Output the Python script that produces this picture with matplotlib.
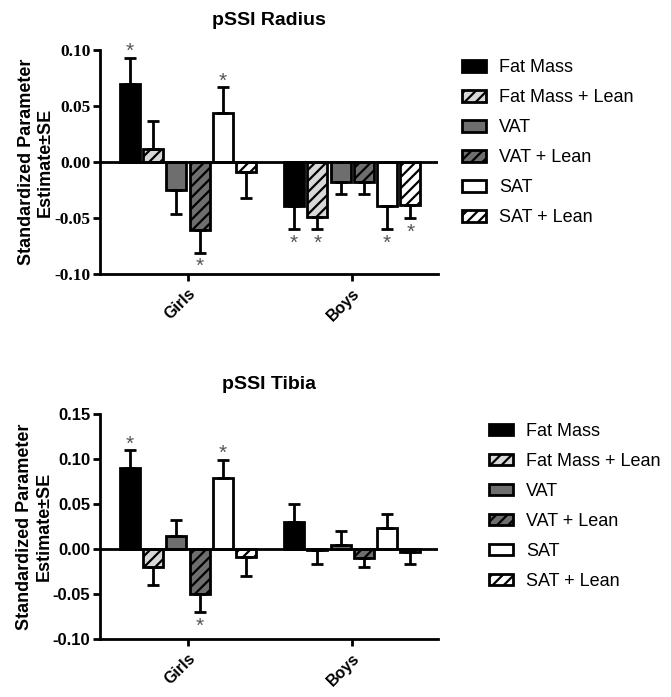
import numpy as np
import matplotlib
matplotlib.use("Agg")
import matplotlib.pyplot as plt

plt.rcParams['font.family'] = ['Liberation Sans', 'DejaVu Sans']
plt.rcParams['hatch.linewidth'] = 1.6

groups = ["Girls", "Boys"]
series = ["Fat Mass", "Fat Mass + Lean", "VAT", "VAT + Lean", "SAT", "SAT + Lean"]
colors = ["#000000", "#d8d8d8", "#6e6e6e", "#6e6e6e", "#ffffff", "#ffffff"]
hatches = [None, "///", None, "///", None, "///"]

# pSSI Radius
radius_girls = [0.070, 0.012, -0.025, -0.061, 0.044, -0.009]
radius_girls_se = [0.023, 0.025, 0.021, 0.020, 0.023, 0.023]
radius_girls_sig = [True, False, False, True, True, False]
radius_boys = [-0.039, -0.049, -0.018, -0.018, -0.039, -0.038]
radius_boys_se = [0.021, 0.011, 0.011, 0.011, 0.021, 0.012]
radius_boys_sig = [True, True, False, False, True, True]

# pSSI Tibia
tibia_girls = [0.090, -0.020, 0.014, -0.050, 0.079, -0.009]
tibia_girls_se = [0.020, 0.020, 0.018, 0.020, 0.020, 0.021]
tibia_girls_sig = [True, False, False, True, True, False]
tibia_boys = [0.030, -0.001, 0.005, -0.010, 0.023, -0.003]
tibia_boys_se = [0.020, 0.015, 0.015, 0.010, 0.016, 0.014]
tibia_boys_sig = [False, False, False, False, False, False]


def draw(ax, title, girls, girls_se, girls_sig, boys, boys_se, boys_sig,
         ylim, yticks, tickfont, ticksize):
    pitch = 0.1415
    width = 0.122
    vals = np.array([girls, boys])
    ses = np.array([girls_se, boys_se])
    sigs = [girls_sig, boys_sig]
    for i in range(len(series)):
        x = np.arange(2) + (i - 2.5) * pitch
        v = vals[:, i]
        ax.bar(x, v, width, color=colors[i], edgecolor="black", linewidth=2,
               hatch=hatches[i], label=series[i], zorder=2)
        lower = np.where(v < 0, ses[:, i], 0)
        upper = np.where(v >= 0, ses[:, i], 0)
        ax.errorbar(x, v, yerr=[lower, upper], fmt="none", ecolor="black",
                    elinewidth=2, capsize=4, capthick=2, zorder=3)
        for g in range(2):
            if sigs[g][i]:
                end = v[g] + ses[g, i] if v[g] >= 0 else v[g] - ses[g, i]
                dy = 0.5 if v[g] >= 0 else -14
                ax.annotate("*", (x[g], end), xytext=(0, dy),
                            textcoords="offset points", ha="center",
                            va="baseline", color="#555555", fontsize=15)
    ax.axhline(0, color="black", linewidth=2, zorder=4)
    ax.set_xlim(-0.537, 1.524)
    ax.set_ylim(*ylim)
    ax.set_yticks(yticks)
    ax.set_yticklabels(["%.2f" % t for t in yticks], fontfamily=tickfont,
                       fontweight="bold", fontsize=ticksize)
    ax.set_xticks([0, 1])
    ax.set_xticklabels(groups, rotation=45, ha="right", rotation_mode="anchor",
                       fontweight="bold", fontsize=11.5)
    ax.tick_params(width=2, length=5)
    ax.tick_params(axis="y", pad=2)
    for s in ["top", "right"]:
        ax.spines[s].set_visible(False)
    for s in ["left", "bottom"]:
        ax.spines[s].set_linewidth(2)
    ax.set_title(title, fontsize=14, fontweight="bold", pad=18)
    ax.set_ylabel("Standardized Parameter\nEstimate\u00b1SE", fontsize=13,
                  fontweight="bold", labelpad=0)


fig = plt.figure(figsize=(6.71, 6.97), dpi=100)
ax1 = fig.add_axes([0.149, 0.607, 0.504, 0.321])
ax2 = fig.add_axes([0.149, 0.083, 0.504, 0.323])

draw(ax1, "pSSI Radius", radius_girls, radius_girls_se, radius_girls_sig,
     radius_boys, radius_boys_se, radius_boys_sig,
     (-0.10, 0.10), [-0.10, -0.05, 0.0, 0.05, 0.10], "Liberation Serif", 12.5)
draw(ax2, "pSSI Tibia", tibia_girls, tibia_girls_se, tibia_girls_sig,
     tibia_boys, tibia_boys_se, tibia_boys_sig,
     (-0.10, 0.15), [-0.10, -0.05, 0.0, 0.05, 0.10, 0.15], "Liberation Sans", 12)

for ax, anchor in [(ax1, (0.6885, 0.915)), (ax2, (0.7288, 0.393))]:
    ax.legend(loc="upper left", bbox_to_anchor=anchor,
              bbox_transform=fig.transFigure, frameon=False, fontsize=13,
              borderpad=0, borderaxespad=0, handlelength=1.35,
              handleheight=0.6, handletextpad=0.7, labelspacing=0.72)

fig.savefig("out.png", dpi=100)
